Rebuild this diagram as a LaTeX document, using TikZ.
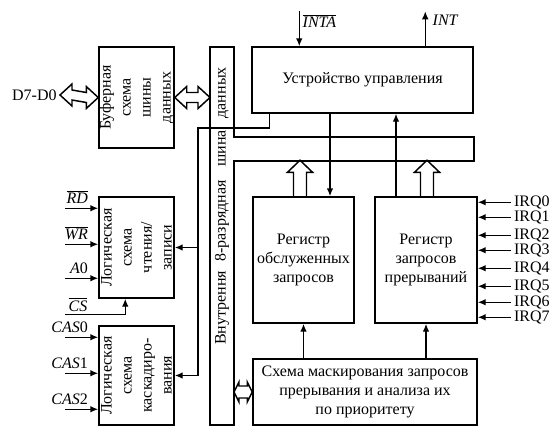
\documentclass[tikz,border=0pt]{standalone}
\usepackage{fontspec}
\setmainfont{Liberation Serif}
\usetikzlibrary{arrows.meta,calc}
\newcommand{\dblarrow}[5]{%
  \draw (#1) -- ++(#3,-#4) -- ++(0,{#4-#5}) -- ($(#2)+(-#3,-#5)$) -- ++(0,{#5-#4}) -- (#2)
    -- ++(-#3,#4) -- ++(0,{#5-#4}) -- ($(#1)+(#3,#5)$) -- ++(0,{#4-#5}) -- cycle;}
\begin{document}
\begin{tikzpicture}[x=0.75pt, y=-0.75pt, line width=1.1pt,
  every node/.append style={font=\fontsize{12}{14}\selectfont},
  box/.style={draw, align=center, inner sep=0pt},
  vtext/.style={rotate=90, align=center, font=\fontsize{12}{15}\selectfont},
  arr/.style={-{Latex[length=6pt,width=5pt]}},
  sig/.style={inner sep=2pt},
  hollowup/.pic={\draw (-6.5,0) -- (-6.5,-24) -- (-12.5,-24) -- (0,-36) -- (12.5,-24) -- (6.5,-24) -- (6.5,0);}]
  \useasboundingbox (0,0) rectangle (555,428);

  \node[box, minimum width=165.75pt, minimum height=49.5pt] (ctrl) at (362.5,80) {Устройство управления};
  \node[box, minimum width=56.25pt, minimum height=75.75pt] (buf) at (136.5,97.5) {};
  \node[vtext] (buftxt) at (buf) {Буферная\\схема\\шины\\данных};
  \node[box, minimum width=56.25pt, minimum height=75.75pt] (rw) at (136.5,247.5) {};
  \node[vtext] (rwtxt) at (rw) {Логическая\\схема\\чтения/\\записи};
  \node[box, minimum width=56.25pt, minimum height=74.25pt] (cas) at (136.5,375.5) {};
  \node[vtext] (castxt) at (cas) {Логическая\\схема\\каскадиро-\\вания};
  \node[box, minimum width=75.75pt, minimum height=94.5pt] (isr) at (303.5,260) {Регистр\\обслуженных\\запросов};
  \node[box, minimum width=76.5pt, minimum height=94.5pt] (irr) at (426,260) {Регистр\\запросов\\прерываний};
  \node[box, minimum width=168pt, minimum height=49.5pt] (mask) at (365,392) {Схема маскирования запросов\\прерывания и анализа их\\по приоритету};

  \coordinate (bus1) at (210,47); \coordinate (bus2) at (234,47);
  \coordinate (bus3) at (234,137); \coordinate (bus4) at (474,137);
  \coordinate (bus5) at (474,161); \coordinate (bus6) at (234,161);
  \coordinate (bus7) at (234,425); \coordinate (bus8) at (210,425);
  \draw (bus1) -- (bus2) -- (bus3) -- (bus4) -- (bus5) -- (bus6) -- (bus7) -- (bus8) -- cycle;
  \node[rotate=90] (bustxt) at (222,206) {Внутрення\hspace{7pt}8-разрядная\hspace{10pt}шина\hspace{9pt}данных};

  \coordinate (ctlout) at ($(ctrl.south west)+(18,0)$);
  \coordinate (wire) at (198,128);
  \draw[arr] (ctlout) |- (wire) |- (cas.east);
  \draw[arr] (wire |- rw.east) -- (rw.east);

  \coordinate (isrin) at ($(isr.north)+(26.5,0)$);
  \draw[arr] (ctrl.south -| isrin) -- (isrin);
  \coordinate (irrout) at ($(irr.north)+(-30,0)$);
  \draw[arr] (irrout) -- (irrout |- ctrl.south);
  \draw[arr] (mask.north -| isr.south) -- (isr.south);
  \draw[arr] (mask.north -| irr.south) -- (irr.south);
  \pic at ($(isr.north)+(-3.5,0)$) {hollowup};
  \pic at ($(irr.north)+(1,0)$) {hollowup};

  \node[sig, anchor=east] (dbus) at (60,95) {D7-D0};
  \dblarrow{dbus.east}{buf.west}{12}{11}{5}
  \coordinate (busw) at (buf.east -| bus1);
  \dblarrow{buf.east}{busw}{12}{11}{5}
  \coordinate (buse) at (mask.west -| bus2);
  \dblarrow{buse}{mask.west}{5}{10}{6}

  \foreach \lbl/\dy [count=\i] in {$\overline{\mbox{\textit{RD}}}$/12, $\overline{\mbox{\textit{WR}}}$/48, \textit{A}0/82}{
    \coordinate (rwin\i) at ($(rw.north west)+(0,\dy)$);
    \draw[arr] ($(rwin\i)+(-33,0)$) coordinate (rwsrc\i) -- (rwin\i);
    \node[sig, anchor=south east] (rwlbl\i) at ($(rwin\i)+(-7,-1)$) {\lbl};
  }
  \coordinate (csin) at ($(rw.south west)+(27,0)$);
  \draw[arr] ($(csin)+(-60,16)$) coordinate (cssrc) -| (csin);
  \node[sig, anchor=south west] (cslbl) at (cssrc) {$\overline{\mbox{\textit{CS}}}$};
  \foreach \lbl/\dy [count=\i] in {\textit{CAS}0/12, \textit{CAS}1/48, \textit{CAS}2/84}{
    \coordinate (casin\i) at ($(cas.north west)+(0,\dy)$);
    \draw[arr] ($(casin\i)+(-33,0)$) coordinate (cassrc\i) -- (casin\i);
    \node[sig, anchor=south east] (caslbl\i) at ($(casin\i)+(-7,-1)$) {\lbl};
  }
  \foreach \dy [count=\i from 0] in {6,21,39,54,72,90,106,121}{
    \coordinate (irq\i) at ($(irr.north east)+(0,\dy)$);
    \draw[arr] ($(irq\i)+(33,0)$) node[sig, anchor=west] (irql\i) {IRQ\i} -- (irq\i);
  }

  \coordinate (intain) at ($(ctrl.north west)+(48,0)$);
  \draw[arr] ($(intain)+(0,-35)$) coordinate (intasrc) -- (intain);
  \node[sig, anchor=north west] (intalbl) at (intasrc) {$\overline{\mbox{\textit{INTA}}}$};
  \coordinate (intout) at ($(ctrl.north west)+(174,0)$);
  \draw[arr] (intout) -- ++(0,-35) coordinate (intdst);
  \node[sig, anchor=north west] (intlbl) at ($(intdst)+(4,0)$) {\textit{INT}};
\end{tikzpicture}
\end{document}
